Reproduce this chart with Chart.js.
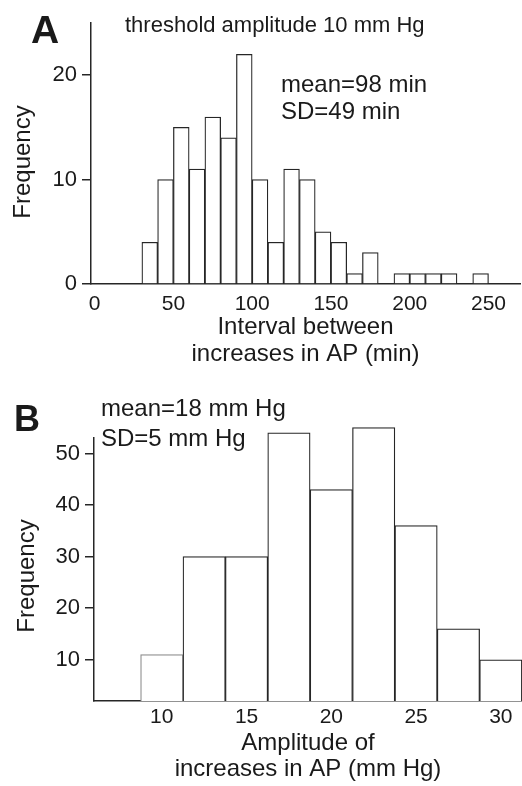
<!DOCTYPE html>
<html>
<head>
<meta charset="utf-8">
<script src="https://cdn.jsdelivr.net/npm/chart.js@4.4.1/dist/chart.umd.min.js"></script>
<style>
  html, body { margin: 0; padding: 0; background: #fff; }
  #page { position: relative; width: 522px; height: 786px; overflow: hidden;
          font-family: "Liberation Sans", Arial, sans-serif; color: #1a1a1a; }
  canvas { position: absolute; left: 0; }
  .txt { position: absolute; white-space: nowrap; line-height: 1; }
  .panel { font-weight: bold; }
  .note { font-size: 24px; }
  .ytitle { font-size: 24px; transform: translate(-50%, -50%) rotate(-90deg); }
</style>
</head>
<body>
<div id="page">
  <canvas id="chartA" width="522" height="375" style="top:0"></canvas>
  <canvas id="chartB" width="522" height="411" style="top:375px"></canvas>

  <div class="txt panel" style="left:31px;top:10px;font-size:39px">A</div>
  <div class="txt" style="left:125px;top:14px;font-size:22px">threshold amplitude 10 mm Hg</div>
  <div class="txt note" style="left:281px;top:72px">mean=98 min</div>
  <div class="txt note" style="left:281px;top:99px">SD=49 min</div>
  <div class="txt ytitle" style="left:22px;top:162px">Frequency</div>

  <div class="txt panel" style="left:14px;top:401px;font-size:36px">B</div>
  <div class="txt note" style="left:101px;top:396px">mean=18 mm Hg</div>
  <div class="txt note" style="left:101px;top:426px">SD=5 mm Hg</div>
  <div class="txt ytitle" style="left:26px;top:576px">Frequency</div>
</div>

<script>
// Panel A: interval between increases in AP, 10 min bins (centres)
const intervalBins = [35, 45, 55, 65, 75, 85, 95, 105, 115, 125, 135, 145, 155, 165, 175, 185, 195, 205, 215, 225, 235, 245];
const intervalFreq = [4, 10, 15, 11, 16, 14, 22, 10, 4, 11, 10, 5, 4, 1, 3, 0, 1, 1, 1, 1, 0, 1];
const intervalTicks = [0, 50, 100, 150, 200, 250];
const freqTicksA = [0, 10, 20];

// Panel B: amplitude of increases in AP, 2.5 mm Hg bins (centres)
const amplitudeBins = [10, 12.5, 15, 17.5, 20, 22.5, 25, 27.5, 30];
const amplitudeFreq = [11, 30, 30, 54, 43, 55, 36, 16, 10];
const amplitudeTicks = [10, 15, 20, 25, 30];
const freqTicksB = [10, 20, 30, 40, 50];

const FONT = '"Liberation Sans", Arial, sans-serif';
const INK = '#1a1a1a';
const LINE = '#262626';
Chart.defaults.font.family = FONT;
Chart.defaults.color = INK;

function histogram(id, bins, freq, o) {
  return new Chart(document.getElementById(id), {
    type: 'bar',
    data: {
      datasets: [{
        data: bins.map((b, i) => ({ x: b, y: freq[i] })),
        backgroundColor: '#fff',
        borderColor: ctx => (o.firstEdge && ctx.dataIndex === 0) ? o.firstEdge : LINE,
        borderWidth: 1.25,
        barPercentage: 1,
        categoryPercentage: 1,
        base: o.yMin,  // bars sit on the x axis even when it doesn't start at 0
        clip: false    // tallest bars in B poke above the y axis
      }]
    },
    options: {
      responsive: false,
      animation: false,
      layout: { padding: o.padding },
      plugins: { legend: { display: false }, tooltip: { enabled: false } },
      scales: {
        x: {
          type: 'linear',
          z: 1,
          min: o.xMin,
          max: o.xMax,
          offset: false,
          afterBuildTicks: s => { s.ticks = o.xTicks.map(v => ({ value: v })); },
          afterFit: s => { s.height = o.xHeight; },
          grid: { display: false, drawTicks: false },
          border: { color: LINE, width: 1.5 },
          ticks: { font: { size: 21, lineHeight: 1.2 }, padding: o.xTickPad, color: INK, maxRotation: 0, autoSkip: false },
          title: {
            display: true, text: o.xTitle, color: INK,
            font: { size: 24, lineHeight: o.titleLH },
            padding: { top: 0, bottom: o.xTitlePad }
          }
        },
        y: {
          z: 1,
          min: o.yMin,
          max: o.yMax,
          afterBuildTicks: s => { s.ticks = o.yTicks.map(v => ({ value: v })); },
          afterFit: s => { s.width = o.yWidth; },
          grid: { drawOnChartArea: false, drawTicks: true, tickLength: 9, color: LINE, lineWidth: 1.5 },
          border: { color: LINE, width: 1.5 },
          ticks: { font: { size: 22 }, padding: 5, color: INK },
          title: { display: false }
        }
      }
    }
  });
}

histogram('chartA', intervalBins, intervalFreq, {
  padding: { top: 23, right: 2, bottom: 0, left: 0 },
  xMin: -2.3, xMax: 270, xTicks: intervalTicks, xHeight: 91, xTickPad: 8,
  xTitle: ['Interval between', 'increases in AP (min)'], xTitlePad: 7, titleLH: 1.14,
  yMin: 0, yMax: 25, yTicks: freqTicksA, yWidth: 91
});

histogram('chartB', amplitudeBins, amplitudeFreq, {
  padding: { top: 63, right: 0, bottom: 0, left: 0 },
  xMin: 6, xMax: 31.25, xTicks: amplitudeTicks, xHeight: 85, xTickPad: 4,
  xTitle: ['Amplitude of', 'increases in AP (mm Hg)'], xTitlePad: 3, titleLH: 1.1,
  yMin: 2, yMax: 53, yTicks: freqTicksB, yWidth: 94,
  firstEdge: '#8a8a8a'
});
</script>
</body>
</html>
